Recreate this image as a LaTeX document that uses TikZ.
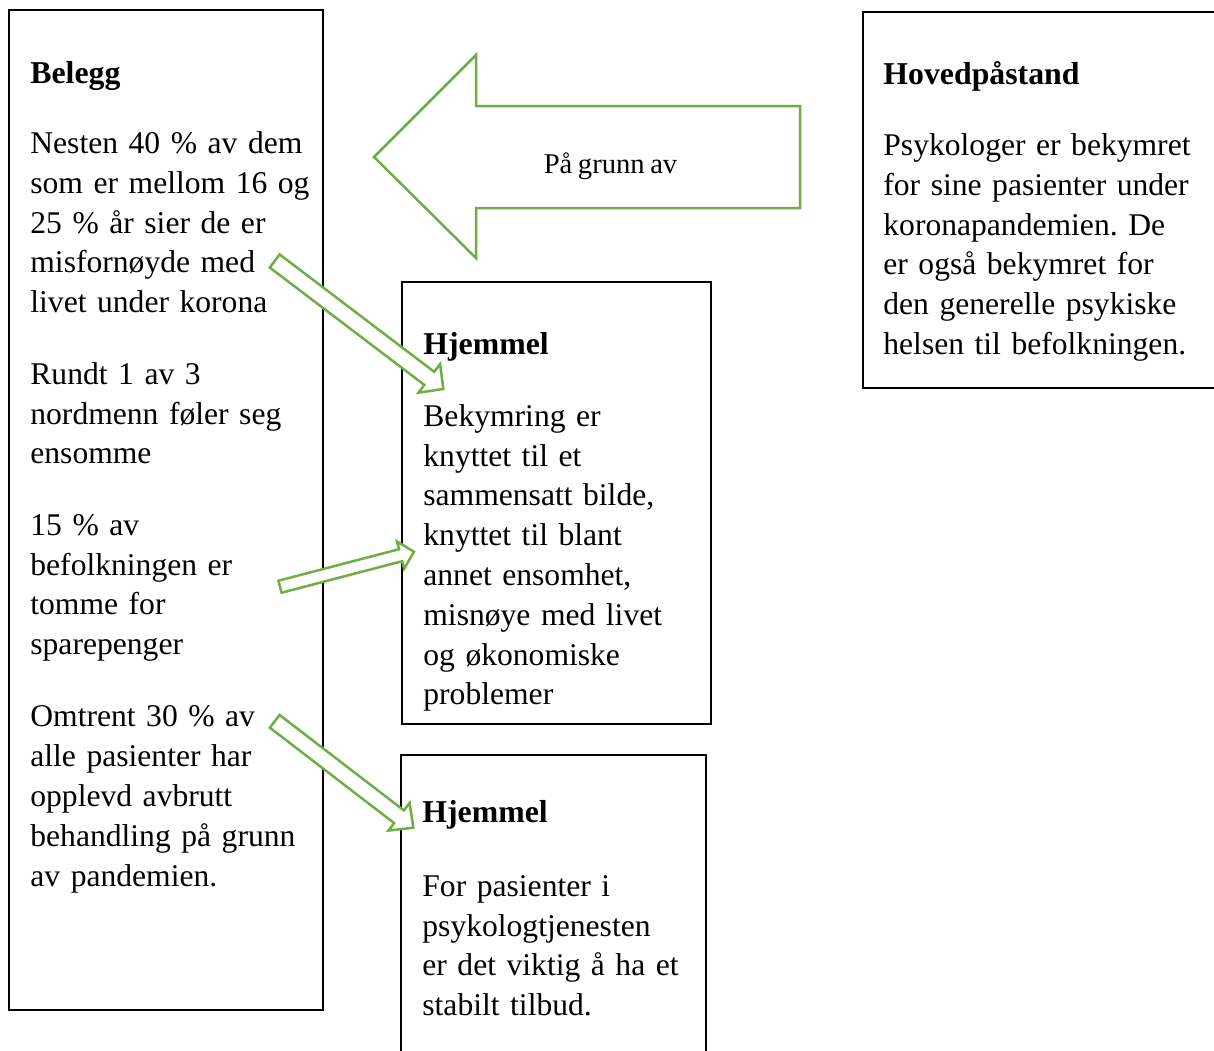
\documentclass[tikz,border=0pt]{standalone}
\usepackage{fontspec}
\setmainfont{Liberation Serif}[WordSpace=0.78]
\usetikzlibrary{calc}
\definecolor{wgreen}{HTML}{70AD47}
\tikzset{
  box/.style={draw=black, line width=1pt, rectangle, inner sep=0pt},
  garrow/.style={draw=wgreen, line width=1.25pt, line join=miter, fill=white},
  txt/.style={anchor=base west, inner sep=0pt, text width=180pt, align=left,
    font=\fontsize{15.8pt}{19.9pt}\selectfont\frenchspacing},
  head/.style={anchor=base west, inner sep=0pt,
    font=\fontsize{15.9pt}{19.9pt}\selectfont\bfseries},
}
% block arrow: tail, tip, half shaft width, half head width, head length
\newcommand\blockarr[5]{%
  \coordinate (ba-h) at ($(#2)!#5!(#1)$);
  \draw[garrow] ($(#1)!#3!90:(#2)$) -- ($(ba-h)!#3!-90:(#1)$)
    -- ($(ba-h)!#4!-90:(#1)$) -- (#2) -- ($(ba-h)!#4!90:(#1)$)
    -- ($(ba-h)!#3!90:(#1)$) -- ($(#1)!#3!-90:(#2)$) -- cycle;
}
\begin{document}
\begin{tikzpicture}[x=0.5pt, y=-0.5pt]
\useasboundingbox (0,0) rectangle (1214,1050);
\clip (0,0) rectangle (1214,1050);

% boxes
\node[box, minimum width=157pt, minimum height=500pt] (belegg) at (166,510) {};
\node[box, minimum width=154.5pt, minimum height=221pt] (hj1) at (556.5,503) {};
\node[box, minimum width=152.5pt, minimum height=157.5pt] (hj2) at (553.5,912.5) {};
\node[box, minimum width=183.5pt, minimum height=188pt] (hoved) at (1046.5,200) {};

% big arrow "På grunn av"
\coordinate (big-tip) at (374,157);
\draw[garrow] (big-tip) -- (476,55) -- (476,106) -- (800,106) -- (800,208)
  -- (476,208) -- (476,258) -- cycle;
\node[anchor=base, inner sep=0pt, font=\fontsize{14.3pt}{17pt}\selectfont]
  (pga) at (610.5,173.3) {På grunn av};

% Belegg texts
\node[head] (belegg-h) at (30,83.5) {Belegg};
\node[txt] (b1) at (30,153.5) {Nesten 40 \% av dem\\som er mellom 16 og\\25 \% år sier de er\\misfornøyde med\\livet under korona};
\node[txt] (b2) at (30,384.2) {Rundt 1 av 3\\nordmenn føler seg\\ensomme};
\node[txt] (b3) at (30,535.3) {15 \% av\\befolkningen er\\tomme for\\sparepenger};
\node[txt] (b4) at (30,726.8) {Omtrent 30 \% av\\alle pasienter har\\opplevd avbrutt\\behandling på grunn\\av pandemien.};

% Hjemmel 1
\node[head] (hj1-h) at (423,354.3) {Hjemmel};
\node[txt] (hj1-t) at (423,426.2) {Bekymring er\\knyttet til et\\sammensatt bilde,\\knyttet til blant\\annet ensomhet,\\misnøye med livet\\og økonomiske\\problemer};

% Hjemmel 2
\node[head] (hj2-h) at (422,822.5) {Hjemmel};
\node[txt] (hj2-t) at (422,896.2) {For pasienter i\\psykologtjenesten\\er det viktig å ha et\\stabilt tilbud.};

% Hovedpåstand
\node[head] (hov-h) at (883,84) {Hovedpåstand};
\node[txt] (hov-t) at (883,155.5) {Psykologer er bekymret\\for sine pasienter under\\koronapandemien. De\\er også bekymret for\\den generelle psykiske\\helsen til befolkningen.};

% block arrows
\coordinate (a1s) at (274.7,261);
\coordinate (a1e) at (443.3,389);
\blockarr{a1s}{a1e}{4.1pt}{9pt}{8.8pt}
\coordinate (a2s) at (280,586.7);
\coordinate (a2e) at (414,551.7);
\blockarr{a2s}{a2e}{3.1pt}{7pt}{6.9pt}
\coordinate (a3s) at (274.7,721.3);
\coordinate (a3e) at (413.3,827.7);
\blockarr{a3s}{a3e}{4pt}{8.7pt}{9pt}
\end{tikzpicture}
\end{document}
